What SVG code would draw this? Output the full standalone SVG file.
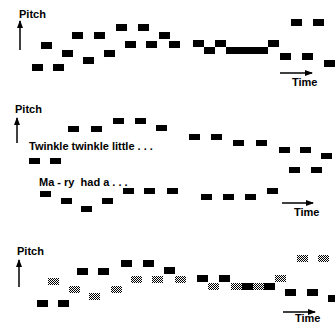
<svg xmlns="http://www.w3.org/2000/svg" width="335" height="325" viewBox="0 0 335 325">
<style>
.n{fill:#000}
.g{fill:url(#chk)}
.ax{stroke:#000;stroke-width:1.5;fill:none;marker-end:url(#ah)}
text{font-family:"Liberation Sans",Arial,sans-serif;fill:#000}
.lb{font-size:11px;font-weight:bold}
.ly{font-size:11px;font-weight:bold;white-space:pre}
</style>
<defs>
<marker id="ah" markerWidth="8" markerHeight="6" refX="7" refY="3" orient="auto" markerUnits="userSpaceOnUse">
<path d="M0,0 L8,3 L0,6 Z" fill="#000"/>
</marker>
<pattern id="chk" width="2" height="2" patternUnits="userSpaceOnUse">
<rect width="2" height="2" fill="#fff"/>
<rect width="1" height="1" fill="#000"/>
<rect x="1" y="1" width="1" height="1" fill="#000"/>
</pattern>
</defs>
<rect width="335" height="325" fill="#fff"/>
<g id="connectors">
<path class="ax" d="M20,50 V21"/>
<path class="ax" d="M280,73 H312"/>
<path class="ax" d="M17,143 V118"/>
<path class="ax" d="M282,203 H313"/>
<path class="ax" d="M19,287 V260"/>
<path class="ax" d="M283,312 H315"/>
</g>
<g id="labels">
<text class="lb" x="19" y="18">Pitch</text>
<text class="lb" x="292" y="86">Time</text>
<text class="lb" x="15" y="113">Pitch</text>
<text class="lb" x="294" y="216">Time</text>
<text class="lb" x="17" y="255">Pitch</text>
<text class="lb" x="295" y="322">Time</text>
<text class="ly" x="29" y="150">Twinkle twinkle little . . .</text>
<text class="ly" x="39" y="186" xml:space="preserve">Ma - ry  had a . . .</text>
</g>
<g id="panel1">
<g id="a1"><rect class="n" x="32" y="64" width="11" height="7"/></g>
<g id="a2"><rect class="n" x="53" y="64" width="11" height="7"/></g>
<g id="a3"><rect class="n" x="41" y="42" width="11" height="7"/></g>
<g id="a4"><rect class="n" x="62" y="50" width="11" height="7"/></g>
<g id="a5"><rect class="n" x="72" y="32" width="11" height="7"/></g>
<g id="a6"><rect class="n" x="83" y="57" width="11" height="7"/></g>
<g id="a7"><rect class="n" x="94" y="32" width="11" height="7"/></g>
<g id="a8"><rect class="n" x="104" y="50" width="11" height="7"/></g>
<g id="a9"><rect class="n" x="116" y="24" width="11" height="7"/></g>
<g id="a10"><rect class="n" x="125" y="41" width="11" height="7"/></g>
<g id="a11"><rect class="n" x="138" y="24" width="11" height="7"/></g>
<g id="a12"><rect class="n" x="146" y="41" width="11" height="7"/></g>
<g id="a13"><rect class="n" x="159" y="32" width="11" height="7"/></g>
<g id="a14"><rect class="n" x="169" y="41" width="11" height="7"/></g>
<g id="a15"><rect class="n" x="193" y="40" width="11" height="7"/></g>
<g id="a16"><rect class="n" x="204" y="47" width="11" height="7"/></g>
<g id="a17"><rect class="n" x="215" y="40" width="11" height="7"/></g>
<g id="a18"><rect class="n" x="226" y="47" width="42" height="7"/></g>
<g id="a19"><rect class="n" x="268" y="40" width="11" height="7"/></g>
<g id="a20"><rect class="n" x="280" y="53" width="11" height="7"/></g>
<g id="a21"><rect class="n" x="291" y="19" width="11" height="7"/></g>
<g id="a22"><rect class="n" x="302" y="53" width="11" height="7"/></g>
<g id="a23"><rect class="n" x="313" y="19" width="11" height="7"/></g>
<g id="a24"><rect class="n" x="324" y="60" width="11" height="7"/></g>
</g>
<g id="panel2">
<g id="b1"><rect class="n" x="68" y="126" width="11" height="6"/></g>
<g id="b2"><rect class="n" x="91" y="126" width="11" height="6"/></g>
<g id="b3"><rect class="n" x="113" y="118" width="11" height="6"/></g>
<g id="b4"><rect class="n" x="135" y="118" width="11" height="6"/></g>
<g id="b5"><rect class="n" x="156" y="125" width="11" height="6"/></g>
<g id="b6"><rect class="n" x="189" y="134" width="11" height="6"/></g>
<g id="b7"><rect class="n" x="211" y="134" width="11" height="6"/></g>
<g id="b8"><rect class="n" x="233" y="140" width="11" height="6"/></g>
<g id="b9"><rect class="n" x="256" y="140" width="11" height="6"/></g>
<g id="b10"><rect class="n" x="279" y="147" width="11" height="6"/></g>
<g id="b11"><rect class="n" x="300" y="147" width="11" height="6"/></g>
<g id="b12"><rect class="n" x="321" y="153" width="11" height="6"/></g>
<g id="b13"><rect class="n" x="289" y="167" width="11" height="6"/></g>
<g id="b14"><rect class="n" x="311" y="167" width="11" height="6"/></g>
<g id="c1"><rect class="n" x="29" y="158" width="11" height="6"/></g>
<g id="c2"><rect class="n" x="50" y="158" width="11" height="6"/></g>
<g id="c3"><rect class="n" x="40" y="191" width="11" height="6"/></g>
<g id="c4"><rect class="n" x="61" y="198" width="11" height="6"/></g>
<g id="c5"><rect class="n" x="81" y="206" width="11" height="6"/></g>
<g id="c6"><rect class="n" x="102" y="198" width="11" height="6"/></g>
<g id="c7"><rect class="n" x="123" y="188" width="11" height="6"/></g>
<g id="c8"><rect class="n" x="144" y="188" width="11" height="6"/></g>
<g id="c9"><rect class="n" x="167" y="188" width="11" height="6"/></g>
<g id="c10"><rect class="n" x="201" y="194" width="11" height="6"/></g>
<g id="c11"><rect class="n" x="223" y="194" width="11" height="6"/></g>
<g id="c12"><rect class="n" x="245" y="194" width="11" height="6"/></g>
<g id="c13"><rect class="n" x="267" y="188" width="11" height="6"/></g>
</g>
<g id="panel3">
<g id="d1"><rect class="n" x="37" y="300" width="11" height="7"/></g>
<g id="d2"><rect class="n" x="58" y="300" width="11" height="7"/></g>
<g id="d3"><rect class="n" x="77" y="268" width="11" height="7"/></g>
<g id="d4"><rect class="n" x="98" y="268" width="11" height="7"/></g>
<g id="d5"><rect class="n" x="121" y="260" width="11" height="7"/></g>
<g id="d6"><rect class="n" x="143" y="260" width="11" height="7"/></g>
<g id="d7"><rect class="n" x="164" y="267" width="11" height="7"/></g>
<g id="d8"><rect class="n" x="197" y="275" width="11" height="7"/></g>
<g id="d9"><rect class="n" x="219" y="275" width="11" height="7"/></g>
<g id="d10"><rect class="n" x="242" y="283" width="11" height="7"/></g>
<g id="d11"><rect class="n" x="264" y="283" width="11" height="7"/></g>
<g id="d12"><rect class="n" x="285" y="289" width="11" height="7"/></g>
<g id="d13"><rect class="n" x="307" y="289" width="11" height="7"/></g>
<g id="d14"><rect class="n" x="328" y="295" width="11" height="7"/></g>
<g id="e1"><rect class="g" x="48" y="278" width="11" height="7"/></g>
<g id="e2"><rect class="g" x="69" y="286" width="11" height="7"/></g>
<g id="e3"><rect class="g" x="89" y="293" width="11" height="7"/></g>
<g id="e4"><rect class="g" x="111" y="286" width="11" height="7"/></g>
<g id="e5"><rect class="g" x="131" y="276" width="11" height="7"/></g>
<g id="e6"><rect class="g" x="152" y="276" width="11" height="7"/></g>
<g id="e7"><rect class="g" x="175" y="276" width="11" height="7"/></g>
<g id="e8"><rect class="g" x="208" y="283" width="11" height="7"/></g>
<g id="e9"><rect class="g" x="231" y="283" width="11" height="7"/></g>
<g id="e10"><rect class="g" x="253" y="283" width="11" height="7"/></g>
<g id="e11"><rect class="g" x="275" y="275" width="11" height="7"/></g>
<g id="e12"><rect class="g" x="297" y="255" width="11" height="7"/></g>
<g id="e13"><rect class="g" x="318" y="255" width="11" height="7"/></g>
</g>
</svg>
